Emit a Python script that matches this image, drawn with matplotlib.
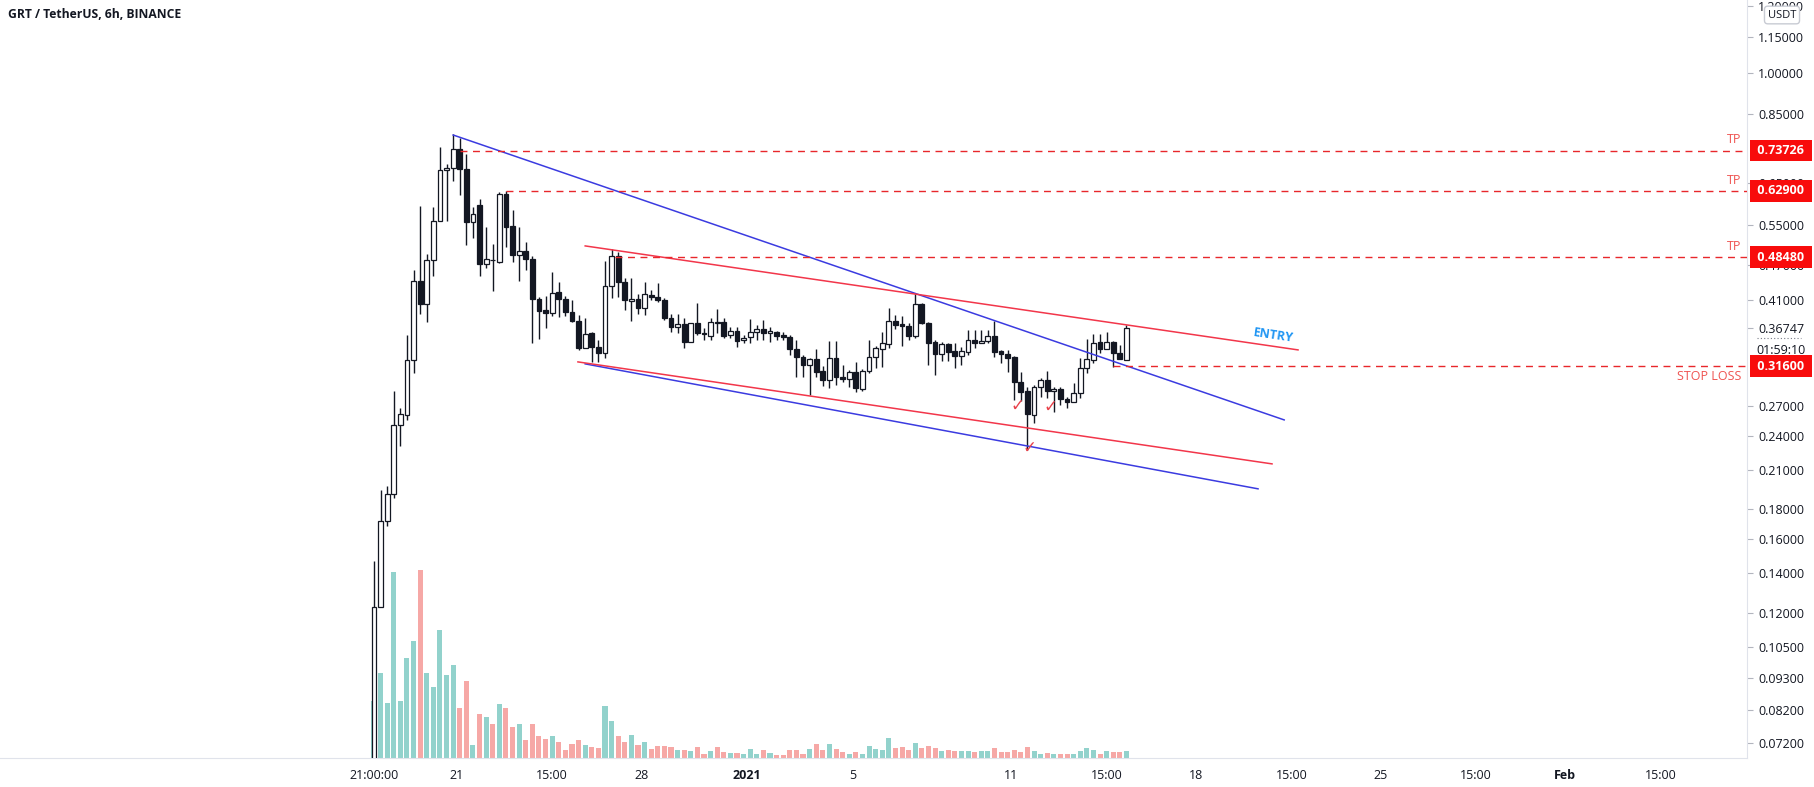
import numpy as np
import matplotlib.pyplot as plt
from matplotlib.transforms import offset_copy

plt.rcParams['font.family'] = ['Open Sans', 'DejaVu Sans']

# GRT/USDT 6h candles, first bar Dec 17 21:00 (local); time axis = days since Dec 21 00:00
t_first = -3.125
bar_days = 0.25

opens = [0.066, 0.1228, 0.1721, 0.1914, 0.2509, 0.2610, 0.3239, 0.4418, 0.4036, 0.4797,
         0.5592, 0.6832, 0.6886, 0.7419, 0.6859, 0.5570, 0.5954, 0.4722, 0.4797, 0.4759,
         0.6217, 0.5483, 0.4893, 0.4971, 0.4816, 0.4116, 0.3942, 0.3896, 0.4231, 0.4116,
         0.3911, 0.3776, 0.3396, 0.3602, 0.3409, 0.3330, 0.4332, 0.4874, 0.4401, 0.4084,
         0.4116, 0.3973, 0.4181, 0.4148, 0.4100, 0.3820, 0.3688, 0.3732, 0.3477, 0.3746,
         0.3602, 0.3560, 0.3761, 0.3761, 0.3574, 0.3631, 0.3504, 0.3546, 0.3616, 0.3660,
         0.3602, 0.3616, 0.3574, 0.3546, 0.3382, 0.3278, 0.3176, 0.3252, 0.3103, 0.2995,
         0.3265, 0.3030, 0.3007, 0.3091, 0.2890, 0.3103, 0.3278, 0.3382, 0.3449, 0.3776,
         0.3732, 0.3703, 0.3560, 0.4036, 0.3746, 0.3477, 0.3317, 0.3449, 0.3356, 0.3291,
         0.3343, 0.3504, 0.3463, 0.3490, 0.3560, 0.3356, 0.3317, 0.3278, 0.2971, 0.2868,
         0.2610, 0.2913, 0.2995, 0.2868, 0.2890, 0.2779, 0.2746, 0.2845, 0.3139, 0.3239,
         0.3477, 0.3382, 0.3477, 0.3330, 0.3239]
highs = [0.1470, 0.1944, 0.1975, 0.2868, 0.2683, 0.3574, 0.4613, 0.5931, 0.4912, 0.5908,
         0.7479, 0.6995, 0.7870, 0.7747, 0.7275, 0.5908, 0.6097, 0.5461, 0.5109, 0.6266,
         0.6291, 0.5839, 0.5461, 0.5149, 0.4874, 0.4148, 0.4165, 0.4577, 0.4401, 0.4165,
         0.4100, 0.3866, 0.3820, 0.3616, 0.3504, 0.4778, 0.5010, 0.4951, 0.4470, 0.4470,
         0.4198, 0.4401, 0.4264, 0.4383, 0.4132, 0.3881, 0.3881, 0.3820, 0.3746, 0.4052,
         0.3674, 0.3820, 0.3958, 0.3820, 0.3688, 0.3688, 0.3574, 0.3805, 0.3717, 0.3790,
         0.3688, 0.3631, 0.3616, 0.3574, 0.3504, 0.3304, 0.3265, 0.3382, 0.3164, 0.3490,
         0.3490, 0.3176, 0.3115, 0.3214, 0.3127, 0.3504, 0.3423, 0.3616, 0.3973, 0.3866,
         0.3851, 0.3746, 0.4214, 0.4052, 0.3761, 0.3504, 0.3477, 0.3463, 0.3463, 0.3409,
         0.3645, 0.3645, 0.3645, 0.3645, 0.3776, 0.3369, 0.3369, 0.3291, 0.3091, 0.2913,
         0.2936, 0.3018, 0.3103, 0.2913, 0.2913, 0.2801, 0.2959, 0.3265, 0.3518, 0.3588,
         0.3588, 0.3616, 0.3490, 0.3436, 0.3717]
lows = [0.066, 0.1228, 0.1687, 0.1884, 0.2311, 0.2559, 0.3078, 0.3881, 0.3761, 0.4505,
        0.5592, 0.5592, 0.6542, 0.6193, 0.5089, 0.5231, 0.4505, 0.4648, 0.4247, 0.4741,
        0.5049, 0.4759, 0.4418, 0.4613, 0.3463, 0.3518, 0.3674, 0.3851, 0.3836, 0.3851,
        0.3761, 0.3369, 0.3396, 0.3214, 0.3214, 0.3265, 0.4132, 0.4148, 0.3942, 0.3776,
        0.3881, 0.3866, 0.4100, 0.4068, 0.3790, 0.3616, 0.3602, 0.3396, 0.3477, 0.3574,
        0.3504, 0.3504, 0.3602, 0.3532, 0.3532, 0.3409, 0.3463, 0.3463, 0.3504, 0.3504,
        0.3477, 0.3504, 0.3504, 0.3304, 0.3030, 0.3030, 0.2823, 0.3030, 0.2925, 0.2902,
        0.2936, 0.2971, 0.2913, 0.2857, 0.2868, 0.3078, 0.3139, 0.3151, 0.3396, 0.3660,
        0.3423, 0.3504, 0.3532, 0.3732, 0.3176, 0.3054, 0.3227, 0.3227, 0.3139, 0.3176,
        0.3304, 0.3396, 0.3463, 0.3463, 0.3278, 0.3201, 0.3091, 0.2768, 0.2757, 0.2275,
        0.2529, 0.2801, 0.2790, 0.2641, 0.2715, 0.2683, 0.2746, 0.2790, 0.3078, 0.3201,
        0.3330, 0.3382, 0.3151, 0.3252, 0.3239]
closes = [0.1228, 0.1721, 0.1914, 0.2509, 0.2620, 0.3239, 0.4418, 0.4036, 0.4797, 0.5592,
          0.6832, 0.6886, 0.7419, 0.6859, 0.5570, 0.5747, 0.4722, 0.4816, 0.4790, 0.6217,
          0.5461, 0.4893, 0.4971, 0.4816, 0.4116, 0.3927, 0.3896, 0.4214, 0.4116, 0.3911,
          0.3776, 0.3396, 0.3588, 0.3409, 0.3330, 0.4332, 0.4874, 0.4401, 0.4100, 0.4116,
          0.3973, 0.4198, 0.4148, 0.4100, 0.3820, 0.3688, 0.3732, 0.3477, 0.3746, 0.3602,
          0.3588, 0.3761, 0.3746, 0.3560, 0.3631, 0.3490, 0.3532, 0.3616, 0.3660, 0.3602,
          0.3631, 0.3560, 0.3546, 0.3382, 0.3278, 0.3176, 0.3252, 0.3091, 0.2995, 0.3265,
          0.3030, 0.3007, 0.3091, 0.2902, 0.3103, 0.3278, 0.3396, 0.3463, 0.3776, 0.3717,
          0.3703, 0.3560, 0.4036, 0.3746, 0.3463, 0.3317, 0.3449, 0.3343, 0.3291, 0.3356,
          0.3504, 0.3463, 0.3490, 0.3560, 0.3343, 0.3317, 0.3265, 0.2971, 0.2857, 0.2620,
          0.2913, 0.2995, 0.2868, 0.2890, 0.2779, 0.2746, 0.2845, 0.3139, 0.3252, 0.3463,
          0.3382, 0.3477, 0.3330, 0.3252, 0.36747]
volume = [57, 85, 55, 186, 57, 100, 117, 188, 85, 71, 128, 83, 93, 50, 77, 13, 44, 41, 34, 54,
          50, 31, 34, 18, 34, 22, 19, 22, 16, 8, 14, 18, 13, 11, 10, 52, 37, 22, 16, 23,
          13, 16, 9, 12, 12, 11, 8, 8, 7, 11, 4, 7, 11, 6, 5, 5, 4, 9, 4, 8,
          5, 3, 3, 8, 8, 4, 9, 14, 8, 14, 9, 6, 4, 6, 4, 12, 9, 8, 20, 10,
          11, 8, 15, 10, 12, 10, 7, 8, 7, 7, 7, 6, 7, 7, 10, 6, 6, 8, 6, 11,
          7, 4, 5, 4, 4, 4, 4, 7, 10, 8, 4, 7, 6, 6, 7]

# drawn levels
tp_levels = [0.73726, 0.62900, 0.48480]
tp_starts = [0.125, 1.875, 6.0]
stop_level = 0.31600
stop_start = 24.875
last_price = 0.36747

# trend lines: (t_start, t_end), (p_start, p_end)
blue_upper = ([-0.125, 31.35], [0.7837, 0.2559])
blue_lower = ([4.875, 30.36], [0.3189, 0.1952])
red_upper = ([4.875, 31.875], [0.5069, 0.3369])
red_lower = ([4.60, 30.89], [0.3214, 0.2153])
checks = [(21.23, 0.2705), (22.48, 0.2695), (21.72, 0.2290)]

price_ticks = [0.072, 0.082, 0.093, 0.105, 0.12, 0.14, 0.16, 0.18, 0.21, 0.24, 0.27,
               0.41, 0.47, 0.55, 0.65, 0.85, 1.0, 1.15, 1.30, last_price]
price_labels = ['0.07200', '0.08200', '0.09300', '0.10500', '0.12000', '0.14000', '0.16000',
                '0.18000', '0.21000', '0.24000', '0.27000', '0.41000', '0.47000', '0.55000',
                '0.65000', '0.85000', '1.00000', '1.15000', '1.20000', '0.36747']
date_ticks = [-3.125, 0, 3.625, 7, 11, 15, 21, 24.625, 28, 31.625, 35, 38.625, 42, 45.625]
date_labels = ['21:00:00', '21', '15:00', '28', '2021', '5', '11', '15:00', '18', '15:00',
               '25', '15:00', 'Feb', '15:00']

o = np.array(opens)
h = np.array(highs)
lo = np.array(lows)
c = np.array(closes)
t = t_first + bar_days * np.arange(len(o))
up = c >= o

ink = '#131722'
fig = plt.figure(figsize=(18.14, 7.87), dpi=100)
rect = [0, 29 / 787, 1747 / 1814, 758 / 787]
axv = fig.add_axes(rect)
ax = fig.add_axes(rect, facecolor='none')
xlim = (-17.29, 48.88)

# volume
axv.bar(t, volume, width=bar_days * 0.76,
        color=np.where(up, '#92d2cc', '#f6a8a6'), linewidth=0)
axv.set_xlim(xlim)
axv.set_ylim(0, max(volume) / 0.248)
axv.axis('off')

# candles
ax.vlines(t, lo, h, color=ink, lw=1, zorder=2)
ax.bar(t, np.abs(c - o), bottom=np.minimum(o, c), width=bar_days * 0.72,
       color=np.where(up, 'white', ink), edgecolor=ink, linewidth=0.9, zorder=3)

ax.set_yscale('log')
ax.set_xlim(xlim)
ax.set_ylim(0.0678, 1.332)

for xs, ys, col in [(blue_upper[0], blue_upper[1], '#3b3be0'),
                    (blue_lower[0], blue_lower[1], '#3b3be0'),
                    (red_upper[0], red_upper[1], '#f2364a'),
                    (red_lower[0], red_lower[1], '#f2364a')]:
    ax.plot(xs, ys, color=col, lw=1.1, zorder=4)

ytr = ax.get_yaxis_transform()
for lvl, st in zip(tp_levels, tp_starts):
    ax.hlines(lvl, st, xlim[1], color='#e8272b', lw=1, linestyles=(0, (5, 4)), zorder=4)
    ax.annotate('TP', xy=(1, lvl), xycoords=ytr, xytext=(-4, 3), textcoords='offset points',
                ha='right', va='bottom', color='#ef5350', fontsize=9)
ax.hlines(stop_level, stop_start, xlim[1], color='#e8272b', lw=1, linestyles=(0, (5, 4)), zorder=4)
ax.annotate('STOP LOSS', xy=(1, stop_level), xycoords=ytr, xytext=(-4, -3),
            textcoords='offset points', ha='right', va='top', color='#ef5350', fontsize=9)

for lvl in tp_levels + [stop_level]:
    ax.text(1 + 7 / 1747, lvl, f' {lvl:.5f} ', transform=ytr, ha='left', va='center',
            color='white', fontsize=9, fontweight='bold', clip_on=False, zorder=10,
            bbox=dict(boxstyle='square,pad=0.35', fc='#f80c0c', ec='none'))

ax.annotate('01:59:10', xy=(1, last_price), xycoords=ytr, xytext=(7, -16),
            textcoords='offset points', ha='left', va='center', color=ink, fontsize=9,
            annotation_clip=False)
dots = offset_copy(ytr, fig=fig, y=-10, units='dots')
ax.plot([1 + 10 / 1747, 1 + 54 / 1747], [last_price, last_price], transform=dots,
        color='#787b86', lw=0.8, ls=(0, (1, 2)), clip_on=False)

ax.text(30.93, 0.3560, 'ENTRY', color='#2196f3', fontsize=9, fontweight='bold',
        rotation=-8.4, ha='center', va='center', rotation_mode='anchor', zorder=5)
for cx, cy in checks:
    ax.text(cx, cy, '✓', color='#e8414a', fontsize=12, ha='center', va='center',
            family='DejaVu Sans', zorder=5)

# axes styling
ax.yaxis.tick_right()
ax.yaxis.set_minor_locator(plt.NullLocator())
ax.set_yticks(price_ticks)
ax.set_yticklabels(price_labels)
ax.tick_params(axis='y', length=4, color='#b2b5be', labelsize=9, labelcolor=ink, pad=4)
ax.set_xticks(date_ticks)
ax.set_xticklabels(date_labels)
for lab in ax.get_xticklabels():
    if lab.get_text() in ('2021', 'Feb'):
        lab.set_fontweight('bold')
ax.tick_params(axis='x', length=0, labelsize=9, labelcolor=ink, pad=8)
for s in ['top', 'left']:
    ax.spines[s].set_visible(False)
for s in ['right', 'bottom']:
    ax.spines[s].set_color('#e0e3eb')

fig.text(8 / 1814, 1 - 14 / 787, 'GRT / TetherUS, 6h, BINANCE', fontsize=8.7,
         fontweight='bold', color=ink, va='center', ha='left')
fig.text(1782 / 1814, 1 - 15 / 787, 'USDT', fontsize=8, color=ink, va='center', ha='center',
         zorder=20, bbox=dict(boxstyle='round,pad=0.3', fc='white', ec='#c8cbd3'))

fig.savefig('out.png', dpi=100, facecolor='white')
